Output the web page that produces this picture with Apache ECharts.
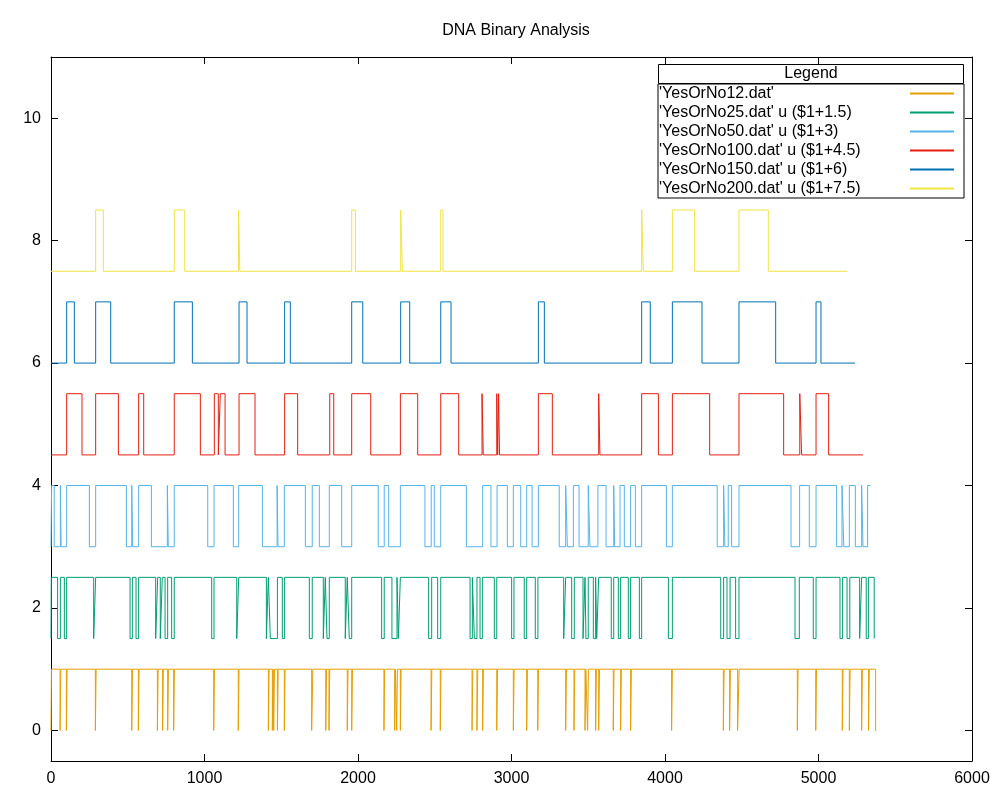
<!DOCTYPE html>
<html><head><meta charset="utf-8">
<script src="https://cdn.jsdelivr.net/npm/echarts@6/dist/echarts.min.js"></script>
<style>html,body{margin:0;padding:0;background:#fff}#c{width:1000px;height:800px}</style>
</head><body><div id="c"></div>
<script>
const chartTitle = 'DNA Binary Analysis';
const seriesNames = [
  "'YesOrNo12.dat'",
  "'YesOrNo25.dat' u ($1+1.5)",
  "'YesOrNo50.dat' u ($1+3)",
  "'YesOrNo100.dat' u ($1+4.5)",
  "'YesOrNo150.dat' u ($1+6)",
  "'YesOrNo200.dat' u ($1+7.5)"
];
const offsets = [0, 1.5, 3, 4.5, 6, 7.5];
const endX = [5377, 5365, 5338, 5290, 5238, 5188];
const yTicks = [0, 2, 4, 6, 8, 10];

// x positions where each 0/1 signal flips (all start at 0)
const toggles12 = [3, 59,64, 100,105, 289,294, 526,531, 569,574, 693,698, 727,732, 760,765, 799,804,
  1060,1065, 1220,1225, 1416,1421, 1442,1447, 1451,1456, 1475,1480, 1520,1525, 1698,1706, 1790,1795,
  1811,1816, 1930,1935, 1959,1964, 2169,2174, 2239,2244, 2252,2257, 2276,2281, 2476,2481, 2536,2541,
  2743,2748, 2775,2780, 2812,2817, 2904,2909, 3012,3017, 3099,3104, 3171,3176, 3353,3358, 3407,3412,
  3479,3484, 3496,3501, 3548,3553, 3568,3573, 3663,3668, 3711,3716, 3776,3781, 4043,4048, 4380,4385,
  4421,4426, 4473,4483, 4862,4867, 4982,4987, 5155,5160, 5201,5206, 5281,5286, 5326,5331, 5372];
const toggles25 = [2, 43, 61, 87, 102, 278, 291, 515, 530, 554, 571, 682, 695, 712, 725, 743, 760, 786, 803,
  1047, 1062, 1210, 1223, 1403, 1416, 1429, 1475, 1507, 1522, 1683, 1702, 1774, 1787, 1798, 1813, 1917, 1930,
  1943, 1959, 2154, 2171, 2221, 2254, 2263, 2276, 2460, 2480, 2519, 2539, 2730, 2745, 2758, 2775, 2795, 2810,
  2888, 2904, 3001, 3016, 3083, 3099, 3155, 3172, 3340, 3353, 3392, 3409, 3466, 3479, 3485, 3500, 3533, 3548,
  3555, 3568, 3650, 3666, 3696, 3711, 3761, 3776, 3833, 3848, 4022, 4048, 4363, 4382, 4404, 4424, 4460, 4482,
  4847, 4875, 4966, 4984, 5140, 5157, 5186, 5204, 5268, 5281, 5311, 5325, 5363];
const toggles50 = [4, 21, 61, 66, 102, 250, 291, 491, 526, 532, 571, 654, 758, 764, 803, 1021, 1062, 1188,
  1223, 1377, 1473, 1479, 1520, 1657, 1702, 1748, 1813, 1894, 1959, 2132, 2171, 2200, 2276, 2436, 2477, 2497,
  2539, 2706, 2812, 2866, 2906, 2973, 3012, 3060, 3099, 3134, 3175, 3311, 3353, 3364, 3403, 3440, 3500, 3511,
  3563, 3616, 3666, 3672, 3707, 3735, 3776, 3807, 3848, 4009, 4048, 4340, 4382, 4390, 4412, 4434, 4482, 4821,
  4877, 4940, 4984, 5118, 5153, 5165, 5201, 5240, 5281, 5290, 5320];
const toggles100 = [102, 202, 291, 439, 571, 604, 803, 973, 1064, 1090, 1103, 1134, 1225, 1329, 1522, 1607,
  1816, 1842, 1959, 2083, 2276, 2389, 2539, 2656, 2808, 2816, 2904, 2910, 2916, 2922, 3175, 3266, 3568, 3576,
  3848, 3957, 4048, 4291, 4482, 4773, 4878, 4890, 4984, 5066];
const toggles150 = [102, 152, 291, 389, 803, 921, 1225, 1277, 1522, 1559, 1959, 2031, 2278, 2337, 2539, 2606,
  3175, 3214, 3848, 3904, 4048, 4241, 4482, 4721, 4984, 5016];
const toggles200 = [291, 341, 803, 871, 1222, 1230, 1959, 1983, 2278, 2289, 2539, 2554, 3848, 3859, 4048, 4193,
  4482, 4673];

const allToggles = [toggles12, toggles25, toggles50, toggles100, toggles150, toggles200];
const colors = ['#e69f00', '#009e73', '#56b4e9', '#e51e10', '#0072b2', '#f0e442'];
const FONT = '"Liberation Sans", Arial, sans-serif';

function buildPoints(toggles, offset, end) {
  let v = 0;
  const pts = [[0, v + offset]];
  toggles.forEach(t => { v = 1 - v; pts.push([t, v + offset]); });
  pts.push([end, v + offset]);
  return pts;
}

const series = seriesNames.map((name, i) => ({
  name: name,
  type: 'line',
  step: 'end',
  symbol: 'none',
  showSymbol: false,
  animation: false,
  lineStyle: { width: 1, color: colors[i] },
  itemStyle: { color: colors[i] },
  data: buildPoints(allToggles[i], offsets[i], endX[i])
}));

const chart = echarts.init(document.getElementById('c'), null, { renderer: 'canvas' });
const lineStyleAxis = { show: true, onZero: false, lineStyle: { color: '#000', width: 1 } };
const tickStyle = { show: true, inside: true, length: 7, lineStyle: { color: '#000' } };
chart.setOption({
  animation: false,
  backgroundColor: '#fff',
  title: {
    text: chartTitle, left: 511, top: 18, textAlign: 'center',
    textStyle: { fontFamily: FONT, fontSize: 16, fontWeight: 'normal', color: '#000' }
  },
  grid: { left: 51, right: 28, top: 57, bottom: 39, show: false },
  legend: {
    orient: 'vertical', left: 658, top: 84, align: 'right',
    padding: [1, 9, 1, 1], itemGap: 2, itemWidth: 44, itemHeight: 14,
    borderColor: '#000', borderWidth: 1, backgroundColor: '#fff',
    itemStyle: { opacity: 0 },
    formatter: n => '{a|' + n + '}',
    textStyle: {
      fontFamily: FONT, fontSize: 16, color: '#000', lineHeight: 17,
      rich: { a: { width: 246, align: 'left', fontFamily: FONT, fontSize: 16, color: '#000', lineHeight: 17 } }
    },
    data: seriesNames
  },
  graphic: [
    { type: 'rect', shape: { x: 658.5, y: 64.5, width: 305, height: 19 },
      style: { fill: '#fff', stroke: '#000', lineWidth: 1 }, z: 100 },
    { type: 'text', x: 811, y: 74, z: 101,
      style: { text: 'Legend', fontFamily: FONT, fontSize: 16, fill: '#000', align: 'center', verticalAlign: 'middle' } }
  ],
  xAxis: [
    {
      type: 'value', min: 0, max: 6000, interval: 1000, position: 'bottom',
      axisLine: lineStyleAxis, splitLine: { show: false }, axisTick: tickStyle,
      axisLabel: { margin: 10, fontFamily: FONT, fontSize: 16, color: '#000', formatter: v => String(v) }
    },
    {
      type: 'value', min: 0, max: 6000, interval: 1000, position: 'top',
      axisLine: lineStyleAxis, splitLine: { show: false }, axisTick: tickStyle,
      axisLabel: { show: false }
    }
  ],
  yAxis: [
    {
      type: 'value', min: -0.5, max: 11, position: 'left',
      axisLine: lineStyleAxis, splitLine: { show: false },
      axisTick: Object.assign({ customValues: yTicks }, tickStyle),
      axisLabel: { margin: 10, customValues: yTicks, fontFamily: FONT, fontSize: 16, color: '#000' }
    },
    {
      type: 'value', min: -0.5, max: 11, position: 'right',
      axisLine: lineStyleAxis, splitLine: { show: false },
      axisTick: Object.assign({ customValues: yTicks }, tickStyle),
      axisLabel: { show: false }
    }
  ],
  series: series
});
</script></body></html>
